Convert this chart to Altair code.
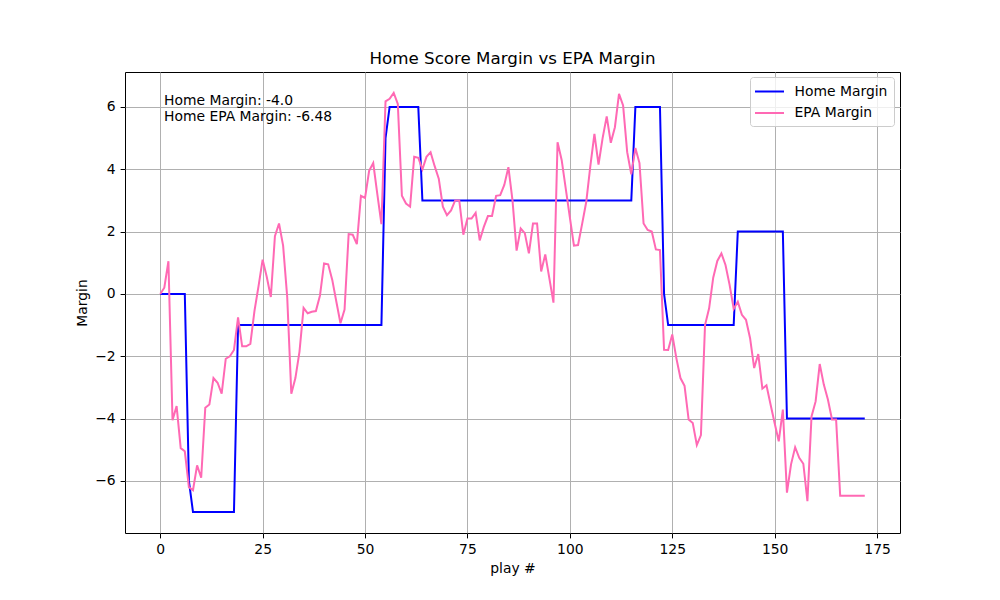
import altair as alt
import pandas as pd

# ---- data ----
series_names = ["Home Margin", "EPA Margin"]
series_colors = ["blue", "hotpink"]
x_ticks = [0, 25, 50, 75, 100, 125, 150, 175]
y_ticks = [-6, -4, -2, 0, 2, 4, 6]

home_margin = [
    0, 0, 0, 0, 0, 0, 0, -6, -7, -7,
    -7, -7, -7, -7, -7, -7, -7, -7, -7, -1,
    -1, -1, -1, -1, -1, -1, -1, -1, -1, -1,
    -1, -1, -1, -1, -1, -1, -1, -1, -1, -1,
    -1, -1, -1, -1, -1, -1, -1, -1, -1, -1,
    -1, -1, -1, -1, -1, 5, 6, 6, 6, 6,
    6, 6, 6, 6, 3, 3, 3, 3, 3, 3,
    3, 3, 3, 3, 3, 3, 3, 3, 3, 3,
    3, 3, 3, 3, 3, 3, 3, 3, 3, 3,
    3, 3, 3, 3, 3, 3, 3, 3, 3, 3,
    3, 3, 3, 3, 3, 3, 3, 3, 3, 3,
    3, 3, 3, 3, 3, 3, 6, 6, 6, 6,
    6, 6, 6, 0, -1, -1, -1, -1, -1, -1,
    -1, -1, -1, -1, -1, -1, -1, -1, -1, -1,
    -1, 2, 2, 2, 2, 2, 2, 2, 2, 2,
    2, 2, 2, -4, -4, -4, -4, -4, -4, -4,
    -4, -4, -4, -4, -4, -4, -4, -4, -4, -4,
    -4, -4, -4,
]

epa_margin = [
    0.0, 0.2, 1.05, -4.05, -3.6, -4.95, -5.05, -6.2, -6.3, -5.5,
    -5.9, -3.65, -3.55, -2.7, -2.85, -3.2, -2.08, -2.0, -1.8, -0.75,
    -1.68, -1.68, -1.6, -0.55, 0.25, 1.1, 0.55, -0.1, 1.85, 2.26,
    1.55, -0.1, -3.2, -2.7, -1.85, -0.45, -0.62, -0.57, -0.55, -0.05,
    0.98, 0.95, 0.45, -0.25, -0.94, -0.5, 1.92, 1.9, 1.6, 3.15,
    3.08, 3.95, 4.2, 3.2, 2.24, 6.18, 6.26, 6.45, 6.1, 3.15,
    2.9, 2.8, 4.4, 4.37, 4.0, 4.4, 4.55, 4.1, 3.7, 2.8,
    2.53, 2.68, 3.0, 3.0, 1.9, 2.42, 2.42, 2.6, 1.72, 2.15,
    2.5, 2.5, 3.15, 3.17, 3.5, 4.07, 3.0, 1.39, 2.1, 1.95,
    1.3, 2.26, 2.26, 0.72, 1.27, 0.5, -0.28, 4.87, 4.3, 3.38,
    2.46, 1.55, 1.57, 2.25, 2.95, 4.1, 5.14, 4.15, 5.0, 5.7,
    4.85, 5.35, 6.42, 6.05, 4.55, 3.84, 4.68, 4.2, 2.26, 2.05,
    2.0, 1.43, 1.41, -1.79, -1.8, -1.3, -2.06, -2.7, -2.95, -4.03,
    -4.14, -4.85, -4.53, -1.0, -0.46, 0.52, 1.06, 1.3, 0.93, 0.29,
    -0.48, -0.25, -0.67, -0.83, -1.42, -2.38, -1.93, -3.04, -2.93, -3.55,
    -4.15, -4.73, -3.71, -6.38, -5.47, -4.92, -5.26, -5.45, -6.65, -3.93,
    -3.45, -2.25, -2.91, -3.39, -4.03, -4.03, -6.48, -6.48, -6.48, -6.48,
    -6.48, -6.48, -6.48,
]

n = len(home_margin)
plays = list(range(n))
df = pd.DataFrame({
    "play": plays + plays,
    "margin": home_margin + epa_margin,
    "series": [series_names[0]] * n + [series_names[1]] * n,
})

# matplotlib-like 5% autoscale margins
x_lo, x_hi = min(plays), max(plays)
x_pad = 0.05 * (x_hi - x_lo)
all_vals = home_margin + epa_margin
y_lo, y_hi = min(all_vals), max(all_vals)
y_pad = 0.05 * (y_hi - y_lo)

FONT = "DejaVu Sans"
FS = 13.9

color = alt.Color(
    "series:N",
    scale=alt.Scale(domain=series_names, range=series_colors),
    legend=alt.Legend(
        title=None, orient="none", legendX=625, legendY=5,
        symbolType="M-2,0H2", symbolSize=210, symbolStrokeWidth=2, symbolOffset=5,
        labelFont=FONT, labelFontSize=FS, labelColor="black",
        labelOffset=16.5, padding=6, rowPadding=5.5,
        strokeColor="#cccccc", fillColor="rgba(255,255,255,0.8)",
        cornerRadius=3,
    ),
)
x = alt.X("play:Q", scale=alt.Scale(domain=[x_lo - x_pad, x_hi + x_pad], nice=False, zero=False),
          axis=alt.Axis(title="play #", values=x_ticks, titlePadding=5))
y = alt.Y("margin:Q", scale=alt.Scale(domain=[y_lo - y_pad, y_hi + y_pad], nice=False, zero=False),
          axis=alt.Axis(title="Margin", values=y_ticks, titlePadding=5,
                        labelExpr="replace(datum.label, '-', '\u2212')"))

base = alt.Chart(df)
home_line = base.transform_filter(alt.datum.series == series_names[0]).mark_line(strokeWidth=2).encode(
    x=x, y=y, color=color)
epa_line = base.transform_filter(alt.datum.series == series_names[1]).mark_line(strokeWidth=2).encode(
    x=x, y=y, color=color)

note_df = pd.DataFrame({"t": [f"Home Margin: {float(home_margin[-1]):.1f}\nHome EPA Margin: {epa_margin[-1]}"]})
note = alt.Chart(note_df).mark_text(
    align="left", baseline="top", lineBreak="\n", font=FONT, fontSize=FS,
    color="black", lineHeight=16,
).encode(x=alt.value(39), y=alt.value(22), text="t:N")

chart = alt.layer(home_line, epa_line, note).properties(
    width=775, height=461,
    title=alt.Title("Home Score Margin vs EPA Margin", font=FONT, fontSize=16.7,
                    fontWeight="normal", color="black", anchor="middle", offset=4),
    autosize=alt.AutoSizeParams(type="none"),
    padding={"left": 117, "top": 64, "right": 92, "bottom": 60},
).configure_view(
    stroke="black", strokeWidth=1,
).configure_axis(
    grid=True, gridColor="#b0b0b0", gridWidth=1,
    domain=False, tickColor="black", tickWidth=1, tickSize=4.9,
    labelFont=FONT, labelFontSize=FS, labelColor="black", labelPadding=4.9,
    titleFont=FONT, titleFontSize=FS, titleFontWeight="normal", titleColor="black",
)

chart.save("out.html", embed_options={"renderer": "svg", "actions": False})
